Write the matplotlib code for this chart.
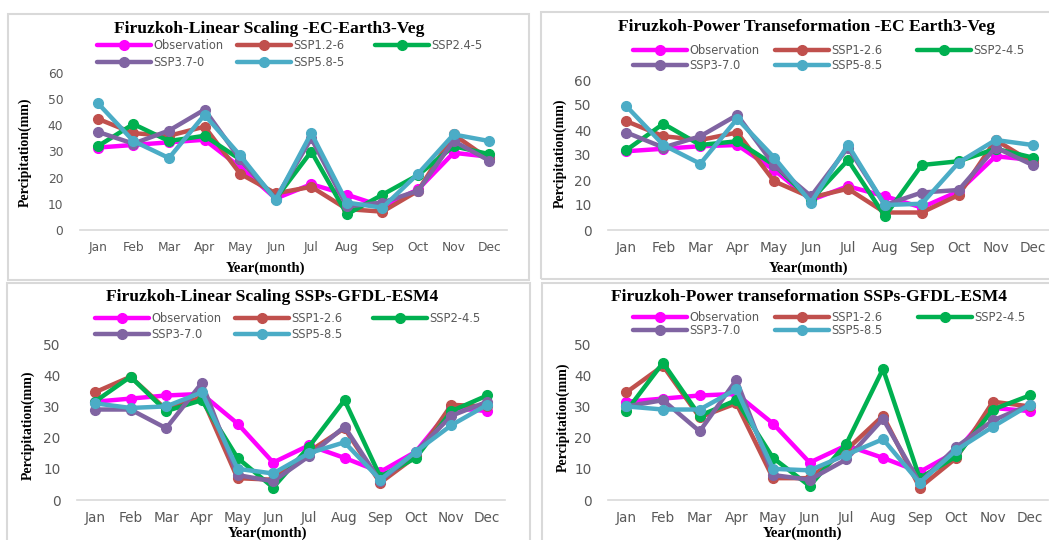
import matplotlib
matplotlib.use("Agg")
import matplotlib.pyplot as plt
from matplotlib.patches import Rectangle

W, H = 1049, 540

months = ["Jan", "Feb", "Mar", "Apr", "May", "Jun", "Jul", "Aug", "Sep", "Oct", "Nov", "Dec"]

# Panel 1: Linear Scaling EC-Earth3-Veg
p1_obs  = [31.5, 32.5, 33.5, 34.5, 24, 12, 17.5, 13.5, 9, 15.5, 29.5, 28]
p1_ssp1 = [42.5, 37, 36, 39.5, 21.5, 14, 16.5, 8, 7, 15, 36.5, 27]
p1_ssp2 = [32, 40.5, 34, 36, 27, 12, 30, 6, 13.5, 21, 32, 29]
p1_ssp3 = [37.5, 33, 38, 46, 27, 12, 35, 9, 10.5, 15, 34, 26.5]
p1_ssp5 = [48.5, 34, 27.5, 44, 28.5, 11.5, 37, 10.5, 8.5, 21.5, 36.5, 34]

# Panel 2: Power Transformation EC-Earth3-Veg
p2_obs  = [31.5, 32.5, 33.5, 34, 24, 12, 17.5, 13.5, 9, 15.5, 29.5, 28]
p2_ssp1 = [43.5, 37.5, 36, 39, 19.5, 13, 16.5, 7, 7, 14, 36, 27]
p2_ssp2 = [32, 42.5, 34, 35.5, 26, 12, 28, 5.5, 26, 27.5, 32.5, 29]
p2_ssp3 = [39, 33, 37.5, 46, 26, 13.5, 33, 10, 15, 16, 33, 26]
p2_ssp5 = [49.5, 34, 26.5, 44.5, 29, 11, 34, 10, 10.5, 27, 36, 34]

# Panel 3: Linear Scaling GFDL-ESM4
p3_obs  = [31.5, 32.5, 33.5, 34, 24.5, 12, 17.5, 13.5, 9, 15.5, 29.5, 28.5]
p3_ssp1 = [34.5, 39.5, 29, 33, 7, 6.5, 15.5, 23, 5.5, 14, 30.5, 30]
p3_ssp2 = [31.5, 39.5, 28.5, 32, 13.5, 4, 17, 32, 7.5, 13.5, 28.5, 33.5]
p3_ssp3 = [29, 29, 23, 37.5, 8, 6, 14, 23.5, 6, 15.5, 27, 31.5]
p3_ssp5 = [31, 29.5, 30, 34.5, 10, 8.5, 15, 18.5, 6.5, 15.5, 24, 30.5]

# Panel 4: Power transformation GFDL-ESM4
p4_obs  = [31.5, 32.5, 33.5, 34, 24.5, 12, 17.5, 13.5, 9, 15.5, 29.5, 28.5]
p4_ssp1 = [34.5, 43, 26.5, 31, 7, 7, 16, 27, 4, 13.5, 31.5, 30]
p4_ssp2 = [28.5, 44, 27, 32, 13.5, 4.5, 18, 42, 7, 14, 29, 33.5]
p4_ssp3 = [30, 32, 22, 38.5, 8, 6.5, 13, 26, 5.5, 17, 25.5, 30.5]
p4_ssp5 = [30, 29, 29, 35.5, 10, 9.5, 14.5, 19.5, 5.5, 16, 23.5, 30.5]

titles = ["Firuzkoh-Linear Scaling -EC-Earth3-Veg",
          "Firuzkoh-Power Transeformation -EC Earth3-Veg",
          "Firuzkoh-Linear Scaling SSPs-GFDL-ESM4",
          "Firuzkoh-Power transeformation SSPs-GFDL-ESM4"]
labels_a = ["Observation", "SSP1.2-6", "SSP2.4-5", "SSP3.7-0", "SSP5.8-5"]
labels_b = ["Observation", "SSP1-2.6", "SSP2-4.5", "SSP3-7.0", "SSP5-8.5"]
colors = ["#FF00FF", "#C0504D", "#00B050", "#8064A2", "#4BACC6"]

panels = [
    dict(title=titles[0], labels=labels_a,
         data=[p1_obs, p1_ssp1, p1_ssp2, p1_ssp3, p1_ssp5], ymax=60,
         box=(8, 14, 529, 280), ax=(80, 73, 507, 230), tpos=(269, 29),
         leg=(97, 39), cols=(0, 140, 278), lsp=0.35,
         ylab=(25, 152), xlab=(265, 268), tfs=8.8),
    dict(title=titles[1], labels=labels_b,
         data=[p2_obs, p2_ssp1, p2_ssp2, p2_ssp3, p2_ssp5], ymax=60,
         box=(541, 12, 1060, 279), ax=(608, 80, 1051, 230), tpos=(807, 27),
         leg=(633, 44), cols=(0, 142, 284), lsp=0.2,
         ylab=(560, 153), xlab=(808, 268), tfs=9.8),
    dict(title=titles[2], labels=labels_b,
         data=[p3_obs, p3_ssp1, p3_ssp2, p3_ssp3, p3_ssp5], ymax=50,
         box=(7, 283, 530, 560), ax=(77, 344, 505, 500), tpos=(272, 297),
         leg=(95, 312), cols=(0, 140, 278), lsp=0.25,
         ylab=(28, 425), xlab=(267, 533), tfs=9.8),
    dict(title=titles[3], labels=labels_b,
         data=[p4_obs, p4_ssp1, p4_ssp2, p4_ssp3, p4_ssp5], ymax=50,
         box=(542, 283, 1060, 560), ax=(608, 344, 1048, 500), tpos=(809, 297),
         leg=(633, 311), cols=(0, 142, 285), lsp=0.0,
         ylab=(563, 417), xlab=(802, 533), tfs=9.8),
]

fig = plt.figure(figsize=(W / 100, H / 100), dpi=100)
fig.patch.set_facecolor("white")

def fx(x):
    return x / W

def fy(y):
    return 1 - y / H

serif = "Liberation Serif"

for p in panels:
    x0, y0, x1, y1 = p["box"]
    fig.patches.append(Rectangle((fx(x0), fy(y1)), fx(x1 - x0), (y1 - y0) / H,
                                 transform=fig.transFigure, fill=False,
                                 edgecolor="#D9D9D9", linewidth=1.5, zorder=0))
    ax0, ay0, ax1, ay1 = p["ax"]
    ax = fig.add_axes([fx(ax0), fy(ay1), fx(ax1 - ax0), (ay1 - ay0) / H])
    ax.set_facecolor("none")
    xs = list(range(len(months)))
    handles = []
    for vals, lab, col in zip(p["data"], p["labels"], colors):
        h, = ax.plot(xs, vals, color=col, lw=3.2, marker="o", ms=7,
                     markerfacecolor=col, markeredgecolor=col, label=lab,
                     solid_capstyle="round", solid_joinstyle="round", clip_on=False)
        handles.append(h)
    ax.set_xlim(-0.5, 11.5)
    ax.set_ylim(0, p["ymax"])
    ax.set_yticks(range(0, p["ymax"] + 1, 10))
    ax.set_xticks(xs)
    ax.set_xticklabels(months)
    for s in ["top", "right", "left"]:
        ax.spines[s].set_visible(False)
    ax.spines["bottom"].set_color("#D9D9D9")
    ax.spines["bottom"].set_linewidth(1.2)
    ax.tick_params(axis="both", length=0, colors="#595959", labelsize=p["tfs"])
    ax.tick_params(axis="x", pad=8)
    ax.tick_params(axis="y", pad=12)
    # title
    tx, ty = p["tpos"]
    fig.text(fx(tx), fy(ty), p["title"], ha="center", va="center",
             fontfamily=serif, fontweight="bold", fontsize=12.6, color="black")
    # legend: three columns, row-major like the original
    columns = [[0, 3], [1, 4], [2]]
    lx, ly = p["leg"]
    for ci, idxs in enumerate(columns):
        fig.legend([handles[i] for i in idxs], [p["labels"][i] for i in idxs],
                   loc="upper left", bbox_to_anchor=(fx(lx + p["cols"][ci]), fy(ly)),
                   ncol=1, frameon=False, fontsize=8.3, handlelength=4.7,
                   handletextpad=0.2, labelspacing=p["lsp"],
                   borderaxespad=0, borderpad=0, labelcolor="#595959")
    # axis labels
    fig.text(fx(p["ylab"][0]), fy(p["ylab"][1]), "Percipitation(mm)", rotation=90,
             ha="center", va="center", fontfamily=serif, fontweight="bold",
             fontsize=10, color="black")
    fig.text(fx(p["xlab"][0]), fy(p["xlab"][1]), "Year(month)", ha="center",
             va="center", fontfamily=serif, fontweight="bold", fontsize=10.5,
             color="black")

fig.savefig("out.png", dpi=100, facecolor="white")
